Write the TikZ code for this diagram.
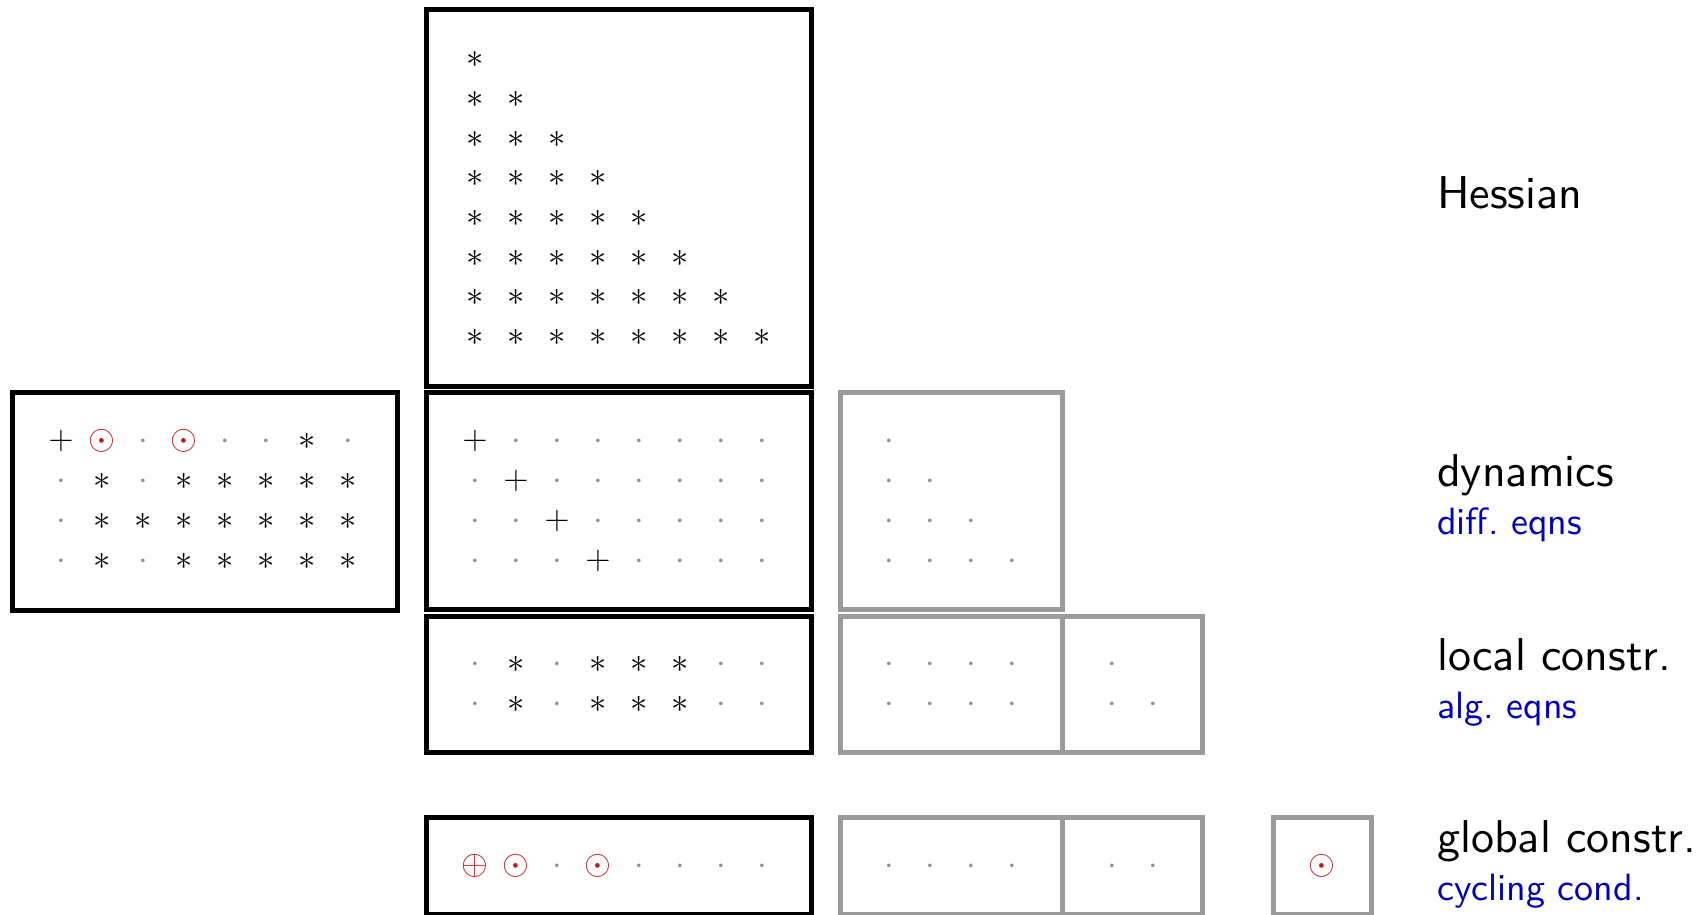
\RequirePackage{fix-cm}
\documentclass[tikz,border=0pt]{standalone}
\usepackage{fontspec}
\newfontfamily\lblfont{lmsans10-regular.otf}
\usepackage{xcolor}
\definecolor{boxgray}{RGB}{155,155,155}
\definecolor{dotgray}{RGB}{145,145,145}
\definecolor{odred}{RGB}{195,25,25}
\definecolor{lblblue}{RGB}{0,0,185}
\tikzset{
  sym/.style={anchor=base, inner sep=0pt, outer sep=0pt, font=\fontsize{34.5}{40}\selectfont},
  blkbox/.style={draw=black, line width=5pt},
  grybox/.style={draw=boxgray, line width=5pt},
  lbl/.style={anchor=base west, inner sep=0pt, font=\lblfont\fontsize{46}{52}\selectfont},
  sublbl/.style={anchor=base west, inner sep=0pt, font=\lblfont\fontsize{38}{44}\selectfont, text=lblblue},
}
% symbol placers: name, x, y (y = math axis position)
\newcommand{\mysyma}[3]{\node[sym] (#1) at (#2,#3+8.6) {$\ast$};}
\newcommand{\mysymp}[3]{\node[sym] (#1) at (#2,#3+8.6) {$+$};}
\newcommand{\mysymd}[3]{\node[sym,text=dotgray] (#1) at (#2,#3+8.6) {$\cdot$};}
\newcommand{\mysymo}[3]{\node[sym,text=odred] (#1) at (#2,#3+8.6) {$\odot$};}
\newcommand{\mysymx}[3]{\node[sym,text=odred] (#1) at (#2,#3+8.6) {$\oplus$};}
\newcommand{\mysymn}[3]{}
\newcommand{\symrow}[4]{%
  \foreach \sy [count=\jj] in {#4} {%
    \pgfmathsetmacro{\xx}{#2+41*(\jj-1)}%
    \csname mysym\sy\endcsname{#1-\jj}{\xx}{#3}%
  }%
}
\begin{document}
\begin{tikzpicture}[x=1pt,y=-1pt]
\useasboundingbox (0,0) rectangle (1703,914);
\clip (0,0) rectangle (1703,914);

% ---- boxes ----
\draw[blkbox] (426,9.5) rectangle (811,386.5);      % Hessian
\draw[blkbox] (12,392) rectangle (397.5,610);       % left
\draw[blkbox] (426,392) rectangle (811,609.5);      % dynamics
\draw[blkbox] (426,616) rectangle (811,752.5);      % local
\draw[blkbox] (426,817) rectangle (811,914.5);      % global
\draw[grybox] (840,392) rectangle (1062,609.5);
\draw[grybox] (840,616) rectangle (1062,752.5);
\draw[grybox] (1062,616) rectangle (1202.5,752.5);
\draw[grybox] (840,817) rectangle (1062,914.5);
\draw[grybox] (1062,817) rectangle (1202.5,914.5);
\draw[grybox] (1273,817) rectangle (1371,914.5);

% ---- Hessian (lower triangle) ----
\symrow{H1}{475}{59}{a}
\symrow{H2}{475}{98.7}{a,a}
\symrow{H3}{475}{138.4}{a,a,a}
\symrow{H4}{475}{178.1}{a,a,a,a}
\symrow{H5}{475}{217.8}{a,a,a,a,a}
\symrow{H6}{475}{257.5}{a,a,a,a,a,a}
\symrow{H7}{475}{297.2}{a,a,a,a,a,a,a}
\symrow{H8}{475}{336.9}{a,a,a,a,a,a,a,a}

% ---- left block ----
\symrow{L1}{61}{441}{p,o,d,o,d,d,a,d}
\symrow{L2}{61}{481}{d,a,d,a,a,a,a,a}
\symrow{L3}{61}{521}{d,a,a,a,a,a,a,a}
\symrow{L4}{61}{561}{d,a,d,a,a,a,a,a}

% ---- dynamics ----
\symrow{D1}{475}{441}{p,d,d,d,d,d,d,d}
\symrow{D2}{475}{481}{d,p,d,d,d,d,d,d}
\symrow{D3}{475}{521}{d,d,p,d,d,d,d,d}
\symrow{D4}{475}{561}{d,d,d,p,d,d,d,d}

% ---- local constraints ----
\symrow{C1}{475}{664}{d,a,d,a,a,a,d,d}
\symrow{C2}{475}{704}{d,a,d,a,a,a,d,d}

% ---- global constraints ----
\symrow{G1}{475}{866}{x,o,d,o,d,d,d,d}

% ---- gray blocks ----
\symrow{GA1}{889}{441}{d}
\symrow{GA2}{889}{481}{d,d}
\symrow{GA3}{889}{521}{d,d,d}
\symrow{GA4}{889}{561}{d,d,d,d}
\symrow{GB1}{889}{664}{d,d,d,d}
\symrow{GB2}{889}{704}{d,d,d,d}
\symrow{GC1}{1112}{664}{d}
\symrow{GC2}{1112}{704}{d,d}
\symrow{GD1}{889}{866}{d,d,d,d}
\symrow{GE1}{1112}{866}{d,d}
\symrow{GF1}{1322}{866}{o}

% ---- labels ----
\node[lbl] (hess) at (1437,208) {Hessian};
\node[lbl] (dyn) at (1437,486) {dynamics};
\node[sublbl] (dyns) at (1437,534) {diff.\ eqns};
\node[lbl] (loc) at (1437,670) {local constr.};
\node[sublbl] (locs) at (1437,718) {alg.\ eqns};
\node[lbl] (glob) at (1437,852) {global constr.};
\node[sublbl] (globs) at (1437,900) {cycling cond.};
\end{tikzpicture}
\end{document}
